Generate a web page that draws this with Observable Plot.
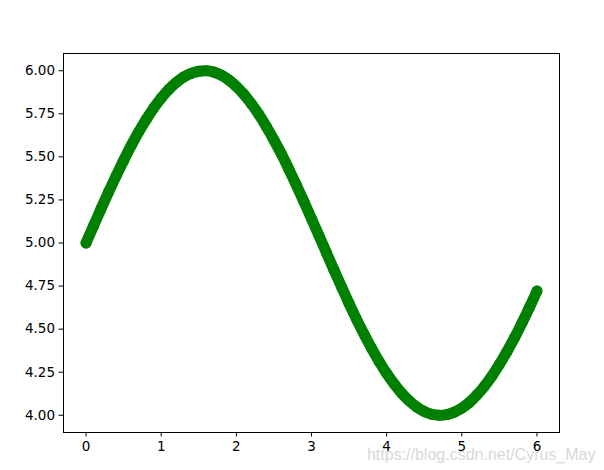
<!DOCTYPE html>
<html>
<head>
<meta charset="utf-8">
<script src="https://cdn.jsdelivr.net/npm/d3@7"></script>
<script src="https://cdn.jsdelivr.net/npm/@observablehq/plot@0.6"></script>
<style>
  html, body { margin: 0; padding: 0; background: #fff; }
  #chart { width: 604px; height: 470px; }
</style>
</head>
<body>
<div id="chart"></div>
<script>
const xValues = [0.0,0.1,0.2,0.3,0.4,0.5,0.6,0.7,0.8,0.9,1.0,1.1,1.2,1.3,1.4,1.5,1.6,1.7,1.8,1.9,2.0,2.1,2.2,2.3,2.4,2.5,2.6,2.7,2.8,2.9,3.0,3.1,3.2,3.3,3.4,3.5,3.6,3.7,3.8,3.9,4.0,4.1,4.2,4.3,4.4,4.5,4.6,4.7,4.8,4.9,5.0,5.1,5.2,5.3,5.4,5.5,5.6,5.7,5.8,5.9,6.0];
const yValues = [5.000,5.100,5.199,5.296,5.389,5.479,5.565,5.644,5.717,5.783,5.841,5.891,5.932,5.964,5.985,5.997,6.000,5.992,5.974,5.946,5.909,5.863,5.808,5.746,5.675,5.598,5.516,5.427,5.335,5.239,5.141,5.042,4.942,4.842,4.745,4.649,4.557,4.470,4.388,4.312,4.243,4.182,4.128,4.084,4.048,4.022,4.006,4.000,4.004,4.018,4.041,4.074,4.117,4.168,4.227,4.295,4.369,4.449,4.535,4.626,4.721];
const xTicks = [0,1,2,3,4,5,6];
const yTicks = [4.00,4.25,4.50,4.75,5.00,5.25,5.50,5.75,6.00];
const watermark = "https://blog.csdn.net/Cyrus_May";

const data = xValues.map((x, i) => ({x, y: yValues[i]}));
const green = "#008000";

const chart = Plot.plot({
  width: 604,
  height: 470,
  marginLeft: 63,
  marginRight: 45,
  marginTop: 53,
  marginBottom: 38,
  style: {fontFamily: "DejaVu Sans", fontSize: "13.5px", color: "black", background: "white"},
  x: {domain: [-0.3, 6.3], ticks: xTicks, tickFormat: d3.format("d"), label: null},
  y: {domain: [3.9, 6.1], ticks: yTicks, tickFormat: d3.format(".2f"), label: null},
  marks: [
    Plot.line(data, {x: "x", y: "y", stroke: green, strokeWidth: 11, strokeLinecap: "round", strokeLinejoin: "round", curve: "catmull-rom"}),
    Plot.dot(data, {x: "x", y: "y", r: 5.5, fill: green, stroke: "none"}),
    Plot.frame({stroke: "black", strokeWidth: 1}),
    Plot.axisX(xTicks, {tickSize: 4.5, tickPadding: 4, stroke: "black", fontSize: "13.5px"}),
    Plot.axisY(yTicks, {tickSize: 4.5, tickPadding: 4, stroke: "black", fontSize: "13.5px", tickFormat: d3.format(".2f")}),
    Plot.text([watermark], {frameAnchor: "bottom-right", text: d => d, dx: 36, dy: 27, textAnchor: "end", fill: "#d9d9d9", fontSize: "16px", fontFamily: "Liberation Sans"})
  ]
});
document.getElementById("chart").appendChild(chart);
</script>
</body>
</html>
